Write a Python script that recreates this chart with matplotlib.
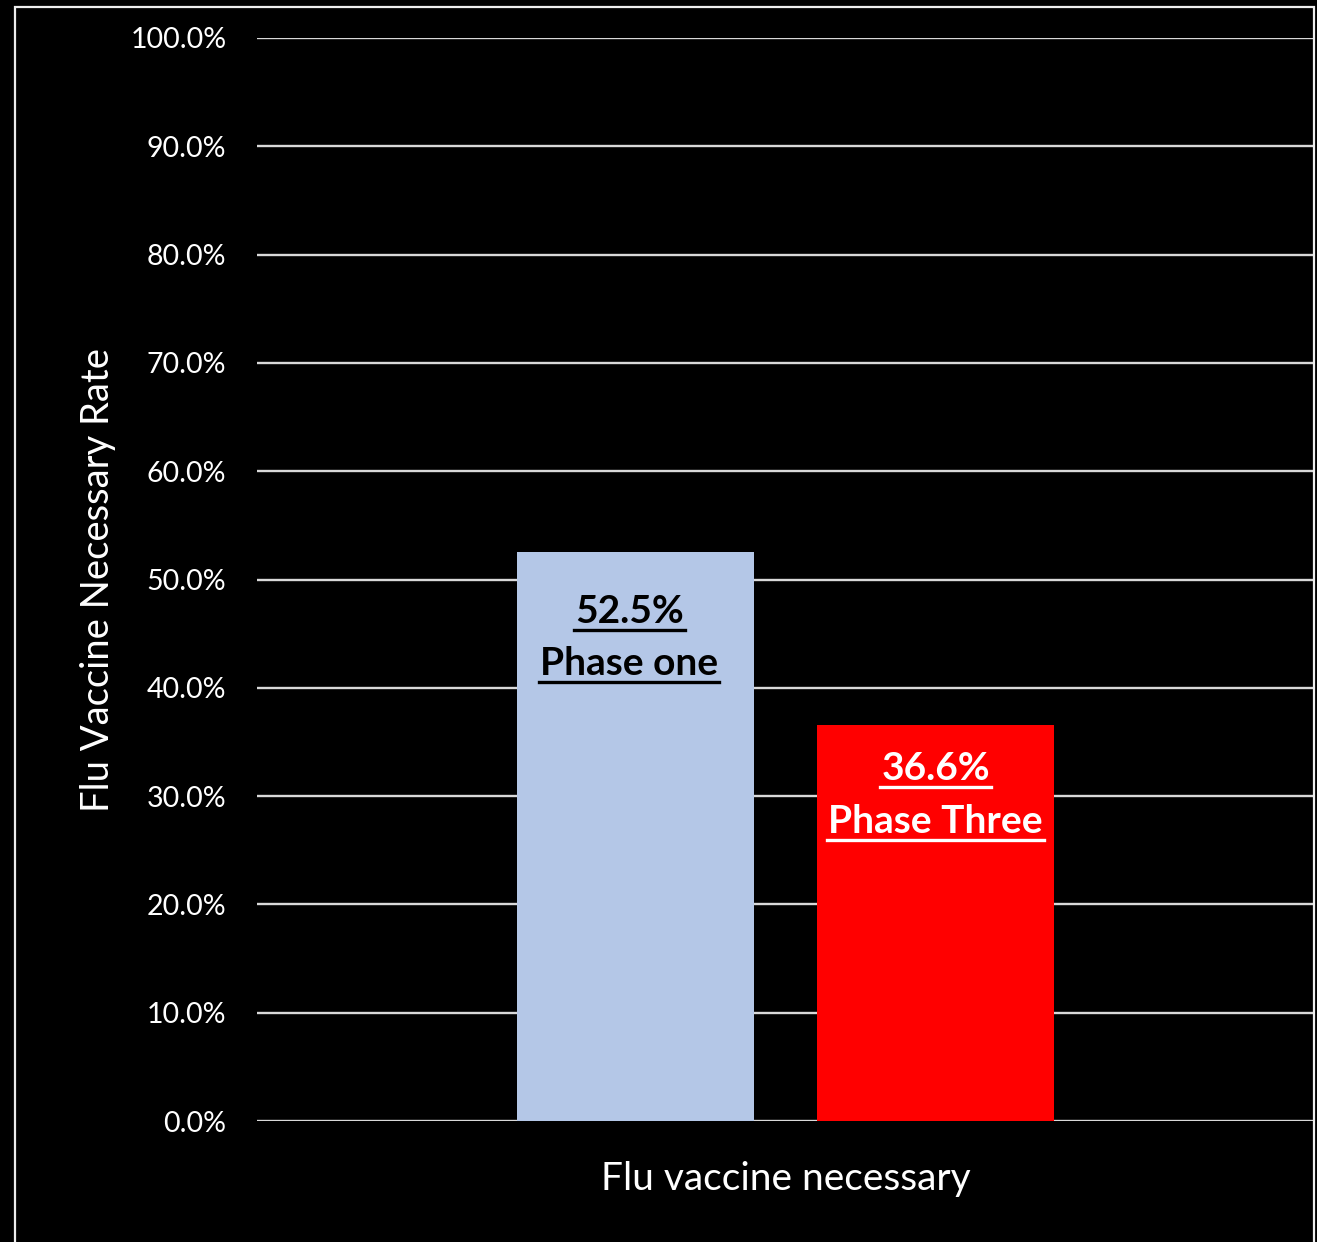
import matplotlib
matplotlib.use("Agg")
import matplotlib.pyplot as plt
from matplotlib.lines import Line2D
from matplotlib.patches import Rectangle
from matplotlib.ticker import FuncFormatter, MultipleLocator

# Data
category = "Flu vaccine necessary"
phases = ["Phase one", "Phase Three"]
rates = [52.5, 36.6]
bar_colors = ["#B4C7E7", "#FF0000"]
label_colors = ["black", "white"]
y_label = "Flu Vaccine Necessary Rate"

plt.rcParams["font.family"] = ["Lato", "DejaVu Sans"]

W, H = 1317, 1242
fig = plt.figure(figsize=(W / 100, H / 100), dpi=100, facecolor="black")

# plot area in pixel coordinates
left, right, top, bottom = 257, 1314, 38, 1121
ax = fig.add_axes([left / W, (H - bottom) / H, (right - left) / W, (bottom - top) / H])
ax.set_facecolor("black")

bar_width = 0.224
gap = 0.06
offsets = [-(bar_width + gap) / 2, (bar_width + gap) / 2]
bars = ax.bar(offsets, rates, width=bar_width, color=bar_colors, zorder=3)

ax.set_xlim(-0.5, 0.5)
ax.set_ylim(0, 100)
ax.yaxis.set_major_locator(MultipleLocator(10))
ax.yaxis.set_major_formatter(FuncFormatter(lambda v, p: f"{v:.1f}%"))
ax.grid(axis="y", color="#d9d9d9", linewidth=1.7, zorder=0)
ax.set_axisbelow(True)
for s in ax.spines.values():
    s.set_visible(False)
ax.tick_params(axis="y", length=0, pad=22, labelsize=20.5, labelcolor="white")
ax.tick_params(axis="x", length=0, pad=29, labelsize=28, labelcolor="white")
ax.set_xticks([0])
ax.set_xticklabels([category])

ax.set_ylabel(y_label, color="white", fontsize=27.5, labelpad=10)

# outer frame
fig.patches.append(Rectangle((15 / W, -0.05), (1314 - 15) / W, (H - 7) / H + 0.05,
                             transform=fig.transFigure, fill=False,
                             edgecolor="#eeeeee", linewidth=1.6))

# bar value labels, placed a fixed distance below each bar top
first_line_px = [71, 55]
second_line_px = [123, 108]
x_shift_px = [-6, 0]
texts = []
for i, (b, v) in enumerate(zip(bars, rates)):
    cx = b.get_x() + b.get_width() / 2
    for line, dy in ((f"{v:.1f}%", first_line_px[i]), (phases[i], second_line_px[i])):
        t = ax.annotate(line, xy=(cx, v), xytext=(x_shift_px[i], -dy), textcoords="offset pixels",
                        ha="center", va="baseline", fontsize=28, fontweight="bold",
                        color=label_colors[i], zorder=5)
        texts.append((t, label_colors[i]))

# underline each label line
fig.canvas.draw()
renderer = fig.canvas.get_renderer()
for t, c in texts:
    bb = t.get_window_extent(renderer)
    base_x, base_y = ax.transData.transform(t.xy)
    y_pix = base_y + t.xyann[1] - 7
    fig.lines.append(Line2D([bb.x0 - 1, bb.x1 + 1], [y_pix, y_pix], transform=None,
                            color=c, linewidth=2.4, zorder=6))

fig.savefig("out.png", dpi=100, facecolor="black")
